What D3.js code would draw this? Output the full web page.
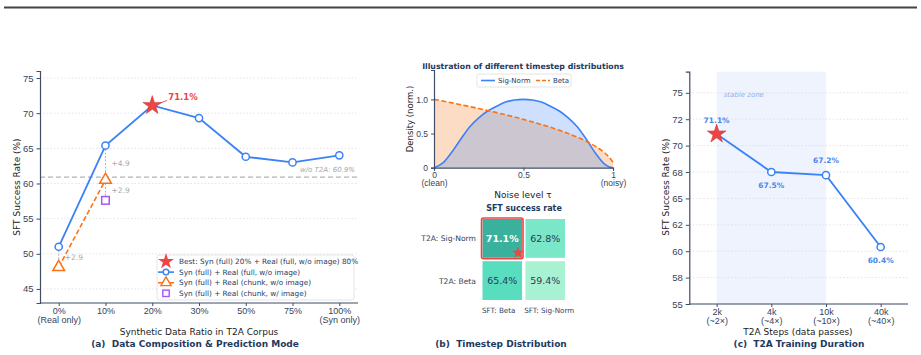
<!DOCTYPE html>
<html>
<head>
<meta charset="utf-8">
<script src="https://cdn.jsdelivr.net/npm/d3@7"></script>
<style>
  body { margin: 0; background: #fff; }
  svg { display: block; font-family: "DejaVu Sans", sans-serif; }
</style>
</head>
<body>
<svg id="chart" width="921" height="355"></svg>
<script>
// ---- data ----
const ratioCats = ["0%", "10%", "20%", "30%", "50%", "75%", "100%"];
const ratioSub = ["(Real only)", "", "", "", "", "", "(Syn only)"];
const synFullWoImg = [51.0, 65.4, 71.1, 69.3, 63.8, 63.0, 64.0];
const chunkWoImgCats = ["0%", "10%"];
const chunkWoImg = [48.1, 60.5];
const chunkWImg = [57.6];          // at 10%
const baselineNoT2A = 60.9;
const leftYTicks = [45, 50, 55, 60, 65, 70, 75];

const tauGrid = [0, 0.05, 0.1, 0.15, 0.2, 0.25, 0.3, 0.35, 0.4, 0.45, 0.5, 0.55, 0.6, 0.65, 0.7, 0.75, 0.8, 0.85, 0.9, 0.95, 0.98, 1];
const sigNormDensity = [0, 0.07, 0.23, 0.42, 0.6, 0.73, 0.83, 0.9, 0.96, 0.99, 1.0, 0.99, 0.96, 0.9, 0.83, 0.73, 0.6, 0.42, 0.22, 0.06, 0.01, 0];
const betaDensity = [1.0, 0.975, 0.949, 0.922, 0.894, 0.866, 0.837, 0.806, 0.775, 0.742, 0.707, 0.671, 0.632, 0.592, 0.548, 0.5, 0.447, 0.387, 0.316, 0.224, 0.15, 0.08];

const t2aRows = ["T2A: Sig-Norm", "T2A: Beta"];
const sftCols = ["SFT: Beta", "SFT: Sig-Norm"];
const sftRate = [[71.1, 62.8], [65.4, 59.4]];

const stepCats = ["2k", "4k", "10k", "40k"];
const stepSub = ["(~2×)", "(~4×)", "(~10×)", "(~40×)"];
const stepRate = [71.1, 67.5, 67.2, 60.4];
const rightYTicks = [55, 57.5, 60, 62.5, 65, 67.5, 70, 72.5, 75];

// ---- style ----
const BLUE = "#3b82f6", ORANGE = "#f97316", PURPLE = "#a855f7", RED = "#ef4444";
const AXIS = "#3f4d66", TICKTXT = "#34435e", NAVY = "#1e3a5f", GRID = "#d9d9d9";

const svg = d3.select("#chart");

svg.append("line").attr("x1", 4).attr("x2", 917).attr("y1", 7.5).attr("y2", 7.5)
  .attr("stroke", "#444").attr("stroke-width", 2);

const star = d3.symbol().type(d3.symbolStar);

function styleAxis(g) {
  g.selectAll(".domain").attr("stroke", AXIS).attr("stroke-width", 1.2);
  g.selectAll(".tick line").attr("stroke", AXIS);
  g.selectAll(".tick text").attr("fill", TICKTXT).attr("font-size", 9);
}

function grid(g, y, ticks, x0, x1) {
  g.append("g").selectAll("line").data(ticks).join("line")
    .attr("x1", x0).attr("x2", x1)
    .attr("y1", d => y(d)).attr("y2", d => y(d))
    .attr("stroke", GRID).attr("stroke-width", 0.7).attr("stroke-dasharray", "1.5,2");
}

function twoLineTicks(axisG, subs) {
  axisG.selectAll(".tick text").each(function(d, i) {
    const t = d3.select(this);
    const main = t.text();
    t.text(null);
    t.append("tspan").attr("x", 0).text(main);
    if (subs[i]) t.append("tspan").attr("x", 0).attr("dy", "1.0em").text(subs[i]);
  });
}

// ================= panel (a) =================
{
  const g = svg.append("g");
  const x = d3.scalePoint().domain(ratioCats).range([40, 358]).padding(0.4);
  const y = d3.scaleLinear().domain([43, 76]).range([303, 71]);

  grid(g, y, leftYTicks, 40, 358);

  // baseline
  g.append("line").attr("x1", 40).attr("x2", 358)
    .attr("y1", y(baselineNoT2A)).attr("y2", y(baselineNoT2A))
    .attr("stroke", "#b3b3b3").attr("stroke-width", 1.1).attr("stroke-dasharray", "5,3");
  g.append("text").attr("x", 355).attr("y", y(baselineNoT2A) - 5)
    .attr("text-anchor", "end").attr("font-size", 7).attr("font-style", "italic")
    .attr("fill", "#a8a8a8").text(`w/o T2A: ${baselineNoT2A}%`);

  // gap connectors
  const gaps = [
    {cat: "10%", hi: synFullWoImg[1], lo: chunkWoImg[1], lab: "+4.9"},
    {cat: "10%", hi: chunkWoImg[1], lo: chunkWImg[0], lab: "+2.9"},
    {cat: "0%", hi: synFullWoImg[0], lo: chunkWoImg[0], lab: "+2.9"}
  ];
  gaps.forEach(d => {
    g.append("line").attr("x1", x(d.cat)).attr("x2", x(d.cat))
      .attr("y1", y(d.hi)).attr("y2", y(d.lo))
      .attr("stroke", "#aaa").attr("stroke-width", 0.9).attr("stroke-dasharray", "2,1.5");
    g.append("text").attr("x", x(d.cat) + 6).attr("y", y((d.hi + d.lo) / 2) + 3)
      .attr("font-size", 7.5).attr("fill", "#a8a8a8").text(d.lab);
  });

  // orange dashed
  const line = d3.line().x(d => x(d[0])).y(d => y(d[1]));
  g.append("path").datum(chunkWoImgCats.map((c, i) => [c, chunkWoImg[i]]))
    .attr("d", line).attr("fill", "none").attr("stroke", ORANGE)
    .attr("stroke-width", 1.6).attr("stroke-dasharray", "5,2.5");
  // blue
  g.append("path").datum(ratioCats.map((c, i) => [c, synFullWoImg[i]]))
    .attr("d", line).attr("fill", "none").attr("stroke", BLUE).attr("stroke-width", 1.8);

  g.selectAll(".pt").data(ratioCats.map((c, i) => [c, synFullWoImg[i]]).filter(d => d[0] !== "20%"))
    .join("circle").attr("cx", d => x(d[0])).attr("cy", d => y(d[1])).attr("r", 3.6)
    .attr("fill", "#fff").attr("stroke", BLUE).attr("stroke-width", 1.5);

  g.selectAll(".tri").data(chunkWoImgCats.map((c, i) => [c, chunkWoImg[i]]))
    .join("path").attr("transform", d => `translate(${x(d[0])},${y(d[1])})`)
    .attr("d", d3.symbol().type(d3.symbolTriangle).size(60))
    .attr("fill", "#fff").attr("stroke", ORANGE).attr("stroke-width", 1.5);

  g.append("rect").attr("x", x("10%") - 3.8).attr("y", y(chunkWImg[0]) - 3.8)
    .attr("width", 7.6).attr("height", 7.6)
    .attr("fill", "#fff").attr("stroke", PURPLE).attr("stroke-width", 1.5);

  // best star + annotation
  const bx = x("20%"), by = y(synFullWoImg[2]);
  g.append("line").attr("x1", bx + 4).attr("y1", by - 1).attr("x2", bx + 15).attr("y2", by - 5)
    .attr("stroke", RED).attr("stroke-width", 0.9);
  g.append("path").attr("transform", `translate(${bx},${by})`)
    .attr("d", star.size(110)).attr("fill", RED).attr("stroke", "#c53030").attr("stroke-width", 0.5);
  g.append("text").attr("x", bx + 16).attr("y", by - 5).attr("font-size", 8.5)
    .attr("font-weight", "bold").attr("fill", RED).text("71.1%");

  // axes
  const xa = g.append("g").attr("transform", "translate(0,303)")
    .call(d3.axisBottom(x).tickSizeOuter(0).tickSize(3).tickPadding(1.5));
  styleAxis(xa);
  twoLineTicks(xa, ratioSub);
  xa.select(".domain").attr("d", "M40,0H358");
  const ya = g.append("g").attr("transform", "translate(40,0)")
    .call(d3.axisLeft(y).tickValues(leftYTicks).tickSizeOuter(0).tickSize(3.5).tickPadding(3));
  styleAxis(ya);
  ya.selectAll(".tick text").attr("font-size", 9.5);

  g.append("text").attr("transform", "translate(20,187) rotate(-90)")
    .attr("text-anchor", "middle").attr("font-size", 9).attr("fill", "#222").text("SFT Success Rate (%)");
  g.append("text").attr("x", 199).attr("y", 335).attr("text-anchor", "middle")
    .attr("font-size", 9).attr("fill", "#222").text("Synthetic Data Ratio in T2A Corpus");
  g.append("text").attr("x", 195).attr("y", 347).attr("text-anchor", "middle")
    .attr("font-size", 9).attr("font-weight", "bold").attr("fill", NAVY)
    .attr("xml:space", "preserve").text("(a)  Data Composition & Prediction Mode");

  // legend
  const lg = g.append("g");
  lg.append("rect").attr("x", 157).attr("y", 255).attr("width", 197).attr("height", 45)
    .attr("rx", 2).attr("fill", "#fff").attr("fill-opacity", 0.9)
    .attr("stroke", "#ddd").attr("stroke-width", 0.8);
  const items = [
    "Best: Syn (full) 20% + Real (full, w/o image) 80%",
    "Syn (full) + Real (full, w/o image)",
    "Syn (full) + Real (chunk, w/o image)",
    "Syn (full) + Real (chunk, w/ image)"
  ];
  items.forEach((t, i) => {
    const yy = 261.5 + i * 10.6;
    lg.append("text").attr("x", 179).attr("y", yy + 2.7).attr("font-size", 7.3)
      .attr("fill", NAVY).text(t);
    if (i === 0) {
      lg.append("path").attr("transform", `translate(166,${yy})`).attr("d", star.size(80)).attr("fill", RED);
    } else if (i === 1) {
      lg.append("line").attr("x1", 158).attr("x2", 174).attr("y1", yy).attr("y2", yy)
        .attr("stroke", BLUE).attr("stroke-width", 1.6);
      lg.append("circle").attr("cx", 166).attr("cy", yy).attr("r", 2.8)
        .attr("fill", "#fff").attr("stroke", BLUE).attr("stroke-width", 1.4);
    } else if (i === 2) {
      lg.append("line").attr("x1", 158).attr("x2", 174).attr("y1", yy).attr("y2", yy)
        .attr("stroke", ORANGE).attr("stroke-width", 1.6).attr("stroke-dasharray", "4,2");
      lg.append("path").attr("transform", `translate(166,${yy})`)
        .attr("d", d3.symbol().type(d3.symbolTriangle).size(45))
        .attr("fill", "#fff").attr("stroke", ORANGE).attr("stroke-width", 1.4);
    } else {
      lg.append("rect").attr("x", 162.8).attr("y", yy - 3.2).attr("width", 6.4).attr("height", 6.4)
        .attr("fill", "#fff").attr("stroke", PURPLE).attr("stroke-width", 1.4);
    }
  });
}

// ================= panel (b) =================
{
  const g = svg.append("g");
  const x = d3.scaleLinear().domain([0, 1]).range([434, 613]);
  const y = d3.scaleLinear().domain([0, 1.43]).range([167.7, 70]);

  const pts = (arr) => tauGrid.map((t, i) => [t, arr[i]]);
  const area = d3.area().x(d => x(d[0])).y0(y(0)).y1(d => y(d[1])).curve(d3.curveMonotoneX);
  const line = d3.line().x(d => x(d[0])).y(d => y(d[1])).curve(d3.curveMonotoneX);

  g.append("path").datum(pts(betaDensity)).attr("d", area).attr("fill", ORANGE).attr("fill-opacity", 0.25);
  g.append("path").datum(pts(sigNormDensity)).attr("d", area).attr("fill", BLUE).attr("fill-opacity", 0.25);
  g.append("path").datum(pts(sigNormDensity)).attr("d", line).attr("fill", "none")
    .attr("stroke", BLUE).attr("stroke-width", 1.6);
  g.append("path").datum(pts(betaDensity)).attr("d", line).attr("fill", "none")
    .attr("stroke", ORANGE).attr("stroke-width", 1.6).attr("stroke-dasharray", "5,2.5");

  const xa = g.append("g").attr("transform", `translate(0,${y(0)})`)
    .call(d3.axisBottom(x).tickValues([0, 0.5, 1]).tickFormat(d => d === 0 ? "0" : d === 1 ? "1" : "0.5")
      .tickSizeOuter(0).tickSize(3).tickPadding(1));
  styleAxis(xa);
  xa.selectAll(".tick text").attr("font-size", 8.5);
  twoLineTicks(xa, ["(clean)", "", "(noisy)"]);
  const ya = g.append("g").attr("transform", "translate(434,0)")
    .call(d3.axisLeft(y).tickValues([0, 0.5, 1]).tickFormat(d => d === 0 ? "0" : d3.format(".1f")(d))
      .tickSizeOuter(0).tickSize(3).tickPadding(3));
  styleAxis(ya);
  ya.selectAll(".tick text").attr("font-size", 8.5);

  g.append("text").attr("transform", "translate(413,119) rotate(-90)")
    .attr("text-anchor", "middle").attr("font-size", 8.5).attr("fill", "#222").text("Density (norm.)");
  g.append("text").attr("x", 523).attr("y", 198).attr("text-anchor", "middle")
    .attr("font-size", 9).attr("fill", "#222").text("Noise level τ");
  g.append("text").attr("x", 523).attr("y", 69).attr("text-anchor", "middle")
    .attr("font-size", 7.8).attr("font-weight", "bold").attr("fill", NAVY)
    .text("Illustration of different timestep distributions");

  // legend
  g.append("rect").attr("x", 477).attr("y", 74).attr("width", 94).attr("height", 13)
    .attr("rx", 2).attr("fill", "#fff").attr("stroke", "#ddd").attr("stroke-width", 0.8);
  g.append("line").attr("x1", 481).attr("x2", 495).attr("y1", 80.5).attr("y2", 80.5)
    .attr("stroke", BLUE).attr("stroke-width", 1.6);
  g.append("text").attr("x", 498).attr("y", 83).attr("font-size", 7).attr("fill", NAVY).text("Sig-Norm");
  g.append("line").attr("x1", 536).attr("x2", 550).attr("y1", 80.5).attr("y2", 80.5)
    .attr("stroke", ORANGE).attr("stroke-width", 1.6).attr("stroke-dasharray", "4,2");
  g.append("text").attr("x", 553).attr("y", 83).attr("font-size", 7).attr("fill", NAVY).text("Beta");

  // heatmap
  const hx = d3.scaleBand().domain(sftCols).range([482.5, 565]).paddingInner(0.08);
  const hy = d3.scaleBand().domain(t2aRows).range([219, 300]).paddingInner(0.08);
  const color = d3.scaleLinear().domain([59, 65, 71.5]).range(["#aef2d4", "#5ae0c1", "#38ae9b"]);

  g.append("text").attr("x", 524).attr("y", 211).attr("text-anchor", "middle")
    .attr("font-size", 8).attr("font-weight", "bold").attr("fill", NAVY).text("SFT success rate");

  t2aRows.forEach((r, i) => {
    sftCols.forEach((c, j) => {
      const v = sftRate[i][j];
      g.append("rect").attr("x", hx(c)).attr("y", hy(r))
        .attr("width", hx.bandwidth()).attr("height", hy.bandwidth()).attr("fill", color(v));
      const best = i === 0 && j === 0;
      g.append("text").attr("x", hx(c) + hx.bandwidth() / 2).attr("y", hy(r) + hy.bandwidth() / 2 + 3.5)
        .attr("text-anchor", "middle").attr("font-size", 9.5)
        .attr("font-weight", best ? "bold" : "normal")
        .attr("fill", best ? "#fff" : "#2b3a55").text(`${v}%`);
    });
    g.append("text").attr("x", 476).attr("y", hy(r) + hy.bandwidth() / 2 + 3)
      .attr("text-anchor", "end").attr("font-size", 7.6).attr("fill", TICKTXT).text(r);
  });
  // column labels sit slightly apart, as in the source
  const colShift = [-3.5, 4];
  sftCols.forEach((c, j) => {
    g.append("text").attr("x", hx(c) + hx.bandwidth() / 2 + colShift[j]).attr("y", 312.5)
      .attr("text-anchor", "middle").attr("font-size", 7.2).attr("fill", TICKTXT).text(c);
  });
  const c0 = sftCols[0], r0 = t2aRows[0];
  g.append("rect").attr("x", hx(c0) - 1).attr("y", hy(r0) - 1)
    .attr("width", hx.bandwidth() + 2).attr("height", hy.bandwidth() + 2).attr("rx", 2)
    .attr("fill", "none").attr("stroke", RED).attr("stroke-width", 1.6);
  g.append("path").attr("transform", `translate(${hx(c0) + hx.bandwidth() - 4},${hy(r0) + hy.bandwidth() - 5})`)
    .attr("d", star.size(45)).attr("fill", RED);

  g.append("text").attr("x", 501).attr("y", 347).attr("text-anchor", "middle")
    .attr("font-size", 9).attr("font-weight", "bold").attr("fill", NAVY)
    .attr("xml:space", "preserve").text("(b)  Timestep Distribution");
}

// ================= panel (c) =================
{
  const g = svg.append("g");
  const x = d3.scalePoint().domain(stepCats).range([689.3, 908]).padding(0.5);
  const y = d3.scaleLinear().domain([55, 77]).range([304, 71.7]);

  g.append("rect").attr("x", x("2k")).attr("y", 71.7)
    .attr("width", x("10k") - x("2k")).attr("height", 304 - 71.7).attr("fill", "#eef3fd");
  g.append("text").attr("x", x("2k") + 7).attr("y", 97).attr("font-size", 7)
    .attr("font-style", "italic").attr("fill", "#8fb2ee").text("stable zone");

  grid(g, y, rightYTicks, 689.3, 908);

  const pts = stepCats.map((c, i) => [c, stepRate[i]]);
  g.append("path").datum(pts).attr("d", d3.line().x(d => x(d[0])).y(d => y(d[1])))
    .attr("fill", "none").attr("stroke", BLUE).attr("stroke-width", 1.8);
  g.selectAll(".pt").data(pts.slice(1)).join("circle")
    .attr("cx", d => x(d[0])).attr("cy", d => y(d[1])).attr("r", 3.6)
    .attr("fill", "#fff").attr("stroke", BLUE).attr("stroke-width", 1.5);
  g.append("path").attr("transform", `translate(${x("2k")},${y(stepRate[0])})`)
    .attr("d", star.size(110)).attr("fill", RED).attr("stroke", "#c53030").attr("stroke-width", 0.5);

  const labOff = [-11, 16, -12, 16];
  pts.forEach((d, i) => {
    g.append("text").attr("x", x(d[0])).attr("y", y(d[1]) + labOff[i])
      .attr("text-anchor", "middle").attr("font-size", 7.5).attr("font-weight", "bold")
      .attr("fill", "#4a86e8").text(`${d[1]}%`);
  });

  const xa = g.append("g").attr("transform", "translate(0,304)")
    .call(d3.axisBottom(x).tickSizeOuter(0).tickSize(3).tickPadding(1.5));
  styleAxis(xa);
  twoLineTicks(xa, stepSub);
  xa.select(".domain").attr("d", "M689.3,0H908");
  const ya = g.append("g").attr("transform", "translate(689.3,0)")
    .call(d3.axisLeft(y).tickValues(rightYTicks).tickFormat(d => d3.format(".0f")(d === 62.5 ? 62 : d === 72.5 ? 72 : d))
      .tickSizeOuter(0).tickSize(3.5).tickPadding(3));
  styleAxis(ya);
  ya.selectAll(".tick text").attr("font-size", 9.5);

  g.append("text").attr("transform", "translate(669,187) rotate(-90)")
    .attr("text-anchor", "middle").attr("font-size", 9).attr("fill", "#222").text("SFT Success Rate (%)");
  g.append("text").attr("x", 798).attr("y", 335).attr("text-anchor", "middle")
    .attr("font-size", 9).attr("fill", "#222").text("T2A Steps (data passes)");
  g.append("text").attr("x", 799).attr("y", 347).attr("text-anchor", "middle")
    .attr("font-size", 9).attr("font-weight", "bold").attr("fill", NAVY)
    .attr("xml:space", "preserve").text("(c)  T2A Training Duration");
}
</script>
</body>
</html>
